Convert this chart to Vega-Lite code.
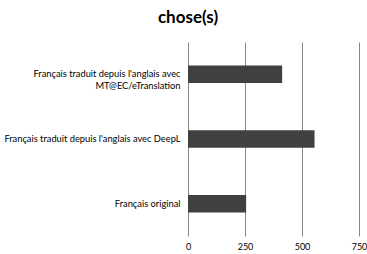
{
  "$schema": "https://vega.github.io/schema/vega-lite/v6.json",
  "autosize": "none",
  "width": 171,
  "height": 194,
  "padding": {"left": 188, "top": 42, "right": 8, "bottom": 18},
  "background": "white",
  "title": {
    "text": "chose(s)",
    "anchor": "start",
    "align": "center",
    "frame": "group",
    "font": "Lato",
    "fontSize": 17,
    "fontWeight": "bold",
    "color": "#000000",
    "offset": 15
  },
  "data": {
    "values": [
      {"cat": "Français traduit depuis l'anglais avec\nMT@EC/eTranslation", "v": 413},
      {"cat": "Français traduit depuis l'anglais avec DeepL", "v": 555},
      {"cat": "Français original", "v": 255}
    ]
  },
  "mark": {"type": "bar", "color": "#404040"},
  "encoding": {
    "y": {
      "field": "cat",
      "type": "nominal",
      "sort": null,
      "scale": {"paddingInner": 0.73, "paddingOuter": 0.365},
      "axis": {
        "title": null,
        "domain": false,
        "ticks": false,
        "labelPadding": 8,
        "labelFont": "Lato",
        "labelFontSize": 9.3,
        "labelColor": "#000000",
        "labelLimit": 200,
        "labelExpr": "split(datum.label, '\\n')"
      }
    },
    "x": {
      "field": "v",
      "type": "quantitative",
      "scale": {"domain": [0, 750], "nice": false},
      "axis": {
        "title": null,
        "values": [0, 250, 500, 750],
        "domain": false,
        "ticks": false,
        "grid": true,
        "gridColor": "#888888",
        "gridOpacity": 1,
        "labelPadding": 6,
        "labelFont": "Lato",
        "labelFontSize": 9,
        "labelColor": "#000000",
        "labelFlush": false
      }
    }
  },
  "config": {"view": {"stroke": null}}
}
